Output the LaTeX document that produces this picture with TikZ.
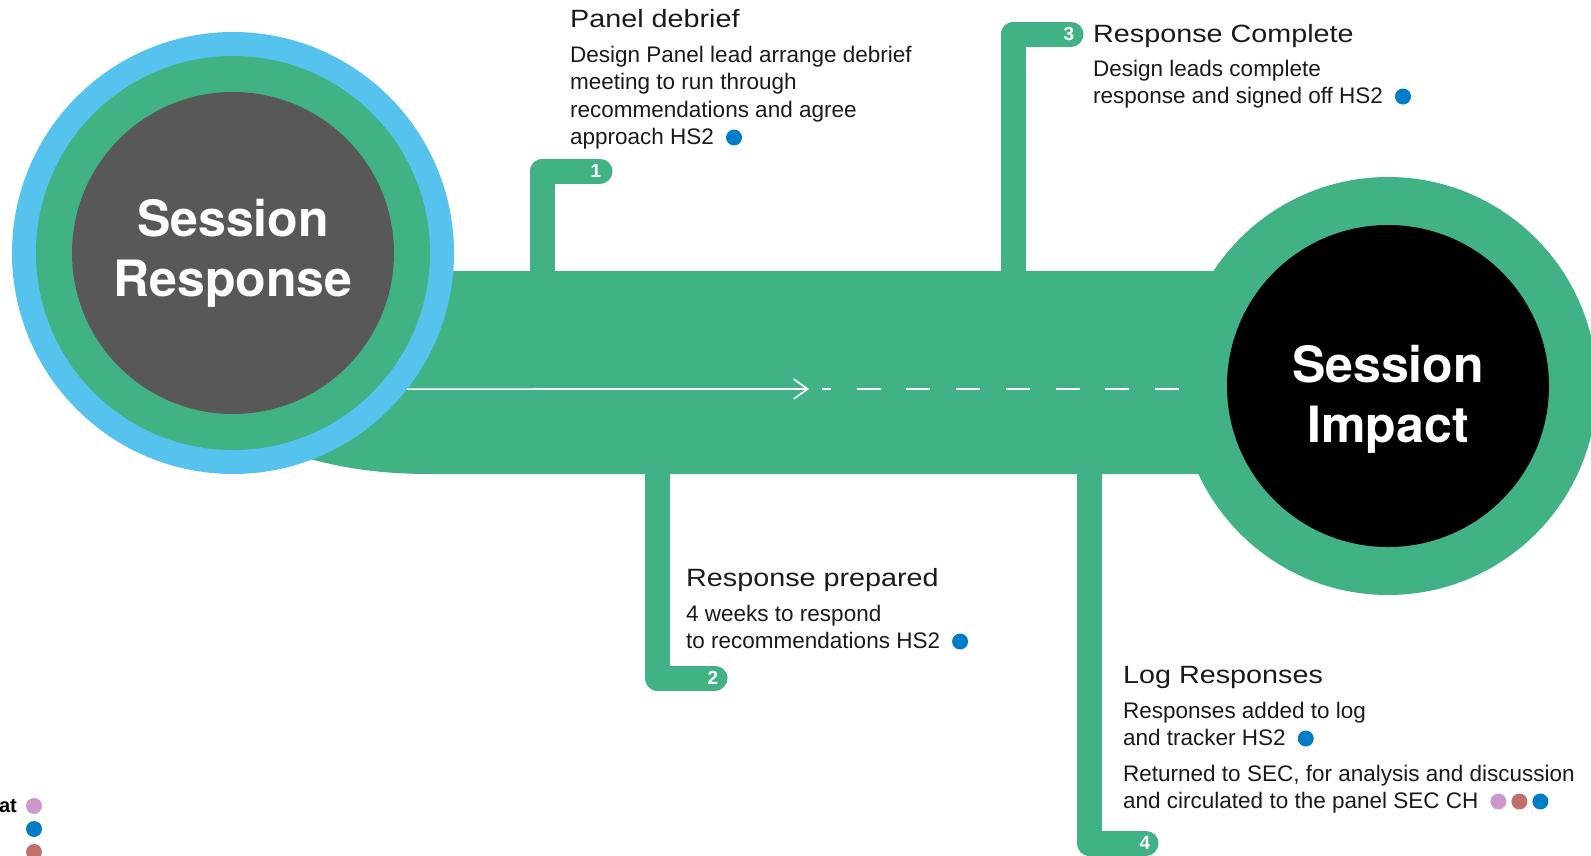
\documentclass[tikz,border=0pt]{standalone}
\usepackage{fontspec}
\setmainfont{Liberation Sans}
\newfontfamily\titlefont[FakeStretch=1.15]{Liberation Sans}
\newfontfamily\hubfont{TeX Gyre Heros}
\usepackage{xcolor}
\usepackage{tikz}
\usetikzlibrary{arrows.meta, positioning}

\definecolor{panelGreen}{RGB}{65,178,132}
\definecolor{ringBlue}{RGB}{86,194,238}
\definecolor{coreGrey}{RGB}{88,88,86}
\definecolor{dotBlue}{RGB}{0,125,198}
\definecolor{dotPink}{RGB}{204,153,204}
\definecolor{dotRed}{RGB}{192,112,106}
\definecolor{inkBlack}{RGB}{26,26,26}

\newcommand{\hsdot}[1]{\tikz[baseline=-7pt]\fill[#1] (0pt,0pt) circle (8pt);}

\begin{document}
\begin{tikzpicture}[
        x=1pt, y=-1pt,
        hub/.style={circle, inner sep=0pt, outer sep=0pt},
        hubtext/.style={text=white, align=center, font=\hubfont\bfseries\fontsize{50}{60}\selectfont},
        tab/.style={draw=panelGreen, line width=25pt, line cap=round, line join=round},
        tabnum/.style={text=white, inner sep=0pt, font=\bfseries\fontsize{19}{19}\selectfont},
        stagetitle/.style={anchor=base west, inner sep=0pt, text=inkBlack, font=\titlefont\fontsize{25}{30}\selectfont},
        stagebody/.style={anchor=base west, inner sep=0pt, text=inkBlack, align=left, font=\fontsize{22.5}{27.5}\selectfont},
        keydot/.style={circle, inner sep=0pt, minimum size=16pt},
        flow/.style={draw=white, line width=1.6pt}
    ]
        \useasboundingbox (0,0) rectangle (1591,855);

        % main bar
        \fill[panelGreen] (1260,271) -- (233,271) -- (233,430)
            .. controls (300,462) and (360,474) .. (430,474) -- (1260,474) -- cycle;

        % stage tabs
        \coordinate (debriefRoot) at (542,300);
        \coordinate (debriefTurn) at (542,171);
        \coordinate (debriefEnd) at (600,171);
        \coordinate (completeRoot) at (1013,300);
        \coordinate (completeTurn) at (1013,34);
        \coordinate (completeEnd) at (1071,34);
        \coordinate (preparedRoot) at (657,450);
        \coordinate (preparedTurn) at (657,678);
        \coordinate (preparedEnd) at (715,678);
        \coordinate (logRoot) at (1089,450);
        \coordinate (logTurn) at (1089,843);
        \coordinate (logEnd) at (1146,843);
        \draw[tab] (debriefRoot) -- (debriefTurn) -- (debriefEnd);
        \draw[tab] (completeRoot) -- (completeTurn) -- (completeEnd);
        \draw[tab] (preparedRoot) -- (preparedTurn) -- (preparedEnd);
        \draw[tab] (logRoot) -- (logTurn) -- (logEnd);
        \node[tabnum] (debriefNum) at (596,171) {1};
        \node[tabnum] (preparedNum) at (713,678) {2};
        \node[tabnum] (completeNum) at (1069,34) {3};
        \node[tabnum] (logNum) at (1145,843) {4};

        % hubs
        \node[hub, fill=ringBlue, minimum size=442pt] (respRing) at (233,253) {};
        \node[hub, fill=panelGreen, minimum size=394pt] (respBand) at (233,253) {};
        \node[hub, hubtext, fill=coreGrey, minimum size=322pt] (respCore) at (233,253) {Session\\Response};
        \node[hub, fill=panelGreen, minimum size=418pt] (impactBand) at (1388,386) {};
        \node[hub, fill=black, minimum size=322pt] (impactCore) at (1388,386) {};
        \node[hubtext] (impactLabel) at ([yshift=-13pt]impactCore.center) {Session\\Impact};

        % flow line
        \coordinate (flowTip) at (809,389);
        \coordinate (dashStart) at (822,389);
        \draw[flow, -{Straight Barb[length=14pt, width=20pt]}] (respRing.-38) -- (flowTip);
        \draw[flow, dash pattern=on 24pt off 25.7pt, dash phase=15pt] (dashStart) -- (impactBand.west |- flowTip);

        % stage texts (body nodes sit on their last line)
        \node[stagetitle] (debriefTitle) at (570,27) {Panel debrief};
        \node[stagebody] (debriefText) at (570,144.5) {Design Panel lead arrange debrief\\meeting to run through\\recommendations and agree\\approach HS2\hspace{12pt}\hsdot{dotBlue}};
        \node[stagetitle] (completeTitle) at (1093,42.5) {Response Complete};
        \node[stagebody] (completeText) at (1093,103.5) {Design leads complete\\response and signed off HS2\hspace{12pt}\hsdot{dotBlue}};
        \node[stagetitle] (preparedTitle) at (686,586) {Response prepared};
        \node[stagebody] (preparedText) at (686,648.5) {4 weeks to respond\\to recommendations HS2\hspace{12pt}\hsdot{dotBlue}};
        \node[stagetitle] (logTitle) at (1123,683) {Log Responses};
        \node[stagebody] (logText) at (1123,745.5) {Responses added to log\\and tracker HS2\hspace{12pt}\hsdot{dotBlue}};
        \node[stagebody] (logNote) at (1123,808.5) {Returned to SEC, for analysis and discussion\\and circulated to the panel SEC CH\hspace{12pt}\hsdot{dotPink}\hspace{5pt}\hsdot{dotRed}\hspace{5pt}\hsdot{dotBlue}};

        % key
        \node[anchor=base east, inner sep=0pt, text=black, font=\bfseries\fontsize{20}{20}\selectfont] (keyLabel) at (17,812) {at};
        \node[keydot, fill=dotPink] (keyPink) at (34,806) {};
        \node[keydot, fill=dotBlue] (keyBlue) at (34,829) {};
        \node[keydot, fill=dotRed] (keyRed) at (34,852) {};
\end{tikzpicture}
\end{document}
